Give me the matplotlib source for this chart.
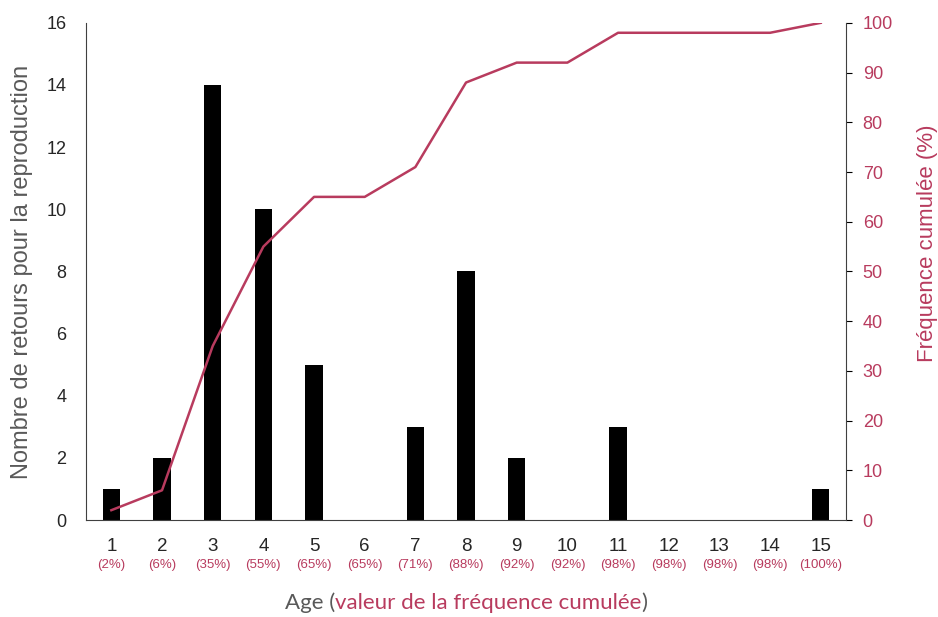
import matplotlib.pyplot as plt

# Data
ages = [1, 2, 3, 4, 5, 6, 7, 8, 9, 10, 11, 12, 13, 14, 15]
retours = [1, 2, 14, 10, 5, 0, 3, 8, 2, 0, 3, 0, 0, 0, 1]
freq_cumulee = [2, 6, 35, 55, 65, 65, 71, 88, 92, 92, 98, 98, 98, 98, 100]

RED = '#b83b5e'
GREY = '#595959'
SANS = ['Liberation Sans', 'DejaVu Sans']

plt.rcParams['font.family'] = SANS

fig = plt.figure(figsize=(9.38, 6.17), dpi=100)
ax = fig.add_axes([0.0917, 0.157, 0.8103, 0.806])

# Bars on the left axis
ax.bar(ages, retours, width=0.34, color='black', zorder=2)
ax.set_xlim(0.5, 15.5)
ax.set_ylim(0, 16)
ax.set_yticks(range(0, 17, 2))
ax.set_xticks(ages)
ax.tick_params(axis='y', length=0, labelsize=13, labelcolor='#262626', pad=14)
ax.tick_params(axis='x', length=0, labelsize=13.5, labelcolor='#262626', pad=13)
ax.set_ylabel('Nombre de retours pour la reproduction', fontsize=17,
              color=GREY, family=SANS)
ax.yaxis.set_label_coords(-0.07, 0.5)
for side in ['top', 'right']:
    ax.spines[side].set_visible(False)
for side in ['left', 'bottom']:
    ax.spines[side].set_color('#404040')

# Cumulative frequency on the right axis
ax2 = ax.twinx()
ax2.plot(ages, freq_cumulee, color=RED, lw=1.8, zorder=3)
ax2.set_ylim(0, 100)
ax2.set_yticks(range(0, 101, 10))
ax2.tick_params(axis='y', length=4, labelsize=13, labelcolor=RED, pad=8)
ax2.set_ylabel('Fréquence cumulée (%)', fontsize=16, color=RED, family=SANS)
ax2.yaxis.set_label_coords(1.093, 0.557)
for side in ['top', 'left', 'bottom']:
    ax2.spines[side].set_visible(False)
ax2.spines['right'].set_color('#404040')

# Percentage under each age label
for a, f in zip(ages, freq_cumulee):
    ax.annotate('(%d%%)' % f, xy=(a, 0), xycoords=('data', 'axes fraction'),
                xytext=(0, -32), textcoords='offset points',
                ha='center', va='center', fontsize=9.5, color=RED, family=SANS)

# Two-coloured x label, laid out piece by piece
pieces = [('Age (', GREY), ('valeur de la fréquence cumulée', RED), (')', GREY)]
fig.canvas.draw()
renderer = fig.canvas.get_renderer()
texts = []
for s, c in pieces:
    t = fig.text(0, 0.013, s, color=c, fontsize=16, family='Lato',
                 ha='left', va='baseline')
    texts.append(t)
widths = [t.get_window_extent(renderer).width for t in texts]
total = sum(widths)
x0 = 466 - total / 2
for t, w in zip(texts, widths):
    t.set_x(x0 / fig.bbox.width)
    x0 += w

fig.savefig('out.png', dpi=100)
